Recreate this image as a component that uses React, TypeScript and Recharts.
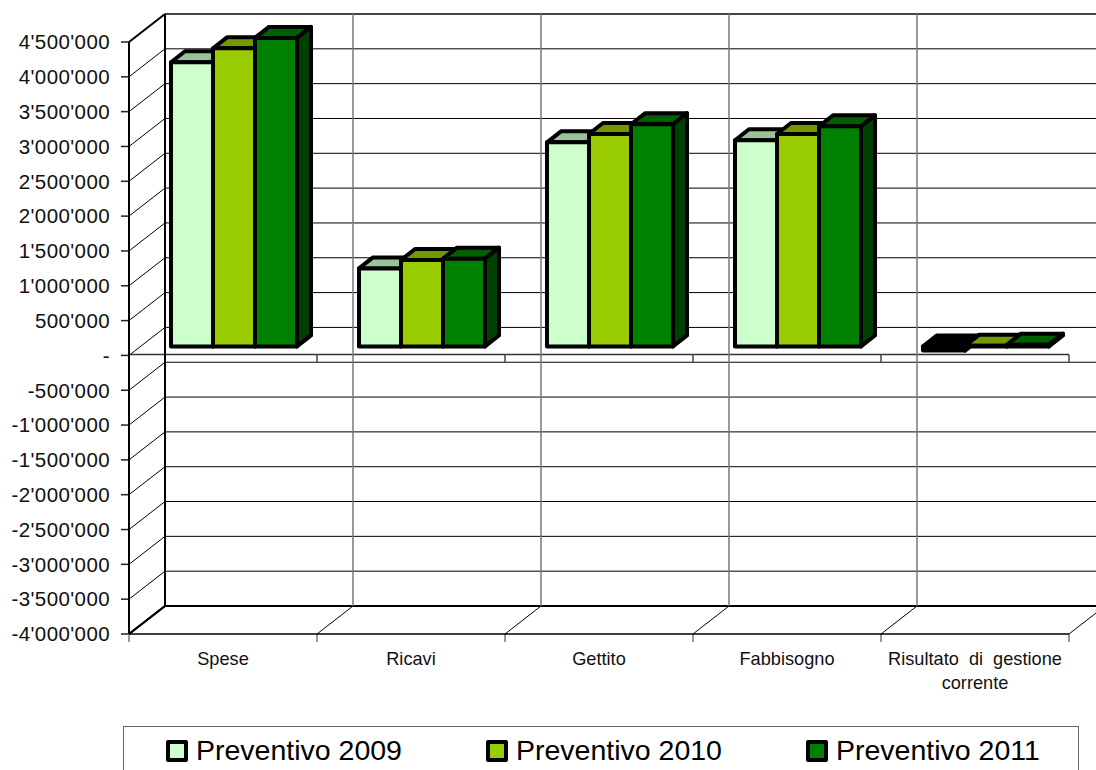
import React from 'react';
import { BarChart, Bar, XAxis, YAxis, CartesianGrid, Legend, Text } from 'recharts';

const categories = ['Spese', 'Ricavi', 'Gettito', 'Fabbisogno', 'Risultato di gestione corrente'];
const preventivo2009 = [4080000, 1120000, 2930000, 2960000, -60000];
const preventivo2010 = [4280000, 1240000, 3050000, 3050000, 8000];
const preventivo2011 = [4430000, 1260000, 3190000, 3160000, 25000];
const yTicks = [
  -4000000, -3500000, -3000000, -2500000, -2000000, -1500000, -1000000, -500000, 0,
  500000, 1000000, 1500000, 2000000, 2500000, 3000000, 3500000, 4000000, 4500000,
];

const seriesNames = ['Preventivo 2009', 'Preventivo 2010', 'Preventivo 2011'];
const seriesColors = ['#CCFFCC', '#99CC00', '#008000'];
const topColors = ['#99C299', '#739900', '#006000'];
const sideColors = ['#668066', '#4D6600', '#004000'];

const data = categories.map((name, i) => ({
  name,
  [seriesNames[0]]: preventivo2009[i],
  [seriesNames[1]]: preventivo2010[i],
  [seriesNames[2]]: preventivo2011[i],
}));

const WIDTH = 1096;
const HEIGHT = 770;
const PLOT_LEFT = 129;
const PLOT_RIGHT = 1069;
const PLOT_TOP = 42;
const PLOT_BOTTOM = 634;
// excel style fake 3d: how far the back wall sits from the front plane
const WALL_DX = 36;
const WALL_DY = -28;
const BAR_DX = 11;
const BAR_DY = -9;
const BAR_DEPTH_X = 14;
const BAR_DEPTH_Y = -11;

const zeroY = PLOT_TOP + (PLOT_BOTTOM - PLOT_TOP) * (4500000 / 8500000);
const step = (PLOT_RIGHT - PLOT_LEFT) / categories.length;
const boundaries = [0, 1, 2, 3, 4, 5].map((i) => PLOT_LEFT + i * step);

const formatTick = (v: number) => {
  if (v === 0) return '-';
  return String(v).replace(/\B(?=(\d{3})+(?!\d))/g, "'");
};

const HorizontalLine = (props: any) => {
  const { x1, x2, y1 } = props;
  const isEdge = Math.abs(y1 - PLOT_TOP) < 1 || Math.abs(y1 - PLOT_BOTTOM) < 1;
  const isTop = Math.abs(y1 - PLOT_TOP) < 1;
  const isZero = Math.abs(y1 - zeroY) < 1;
  return (
    <g>
      <line
        x1={x1 + WALL_DX}
        x2={x2 + WALL_DX}
        y1={y1 + WALL_DY}
        y2={y1 + WALL_DY}
        stroke={isTop ? '#444' : '#000'}
        strokeWidth={isEdge ? 2 : 1}
      />
      <line x1={x1} x2={x1 + WALL_DX} y1={y1} y2={y1 + WALL_DY} stroke="#000" strokeWidth={isEdge ? 2 : 1} />
      <line x1={x1 - 8} x2={x1} y1={y1} y2={y1} stroke="#222" strokeWidth={1.5} />
      {isZero && <line x1={x1} x2={x2} y1={y1 - 1} y2={y1 - 1} stroke="#333" strokeWidth={1.5} />}
    </g>
  );
};

const VerticalLine = (props: any) => {
  const { x1, index } = props;
  const first = index === 0;
  return (
    <g>
      <line
        x1={x1 + WALL_DX}
        x2={x1 + WALL_DX}
        y1={PLOT_TOP + WALL_DY}
        y2={PLOT_BOTTOM + WALL_DY}
        stroke={first ? '#000' : '#777'}
        strokeWidth={first ? 2 : 1.5}
      />
      <line
        x1={x1}
        x2={x1 + WALL_DX}
        y1={PLOT_BOTTOM}
        y2={PLOT_BOTTOM + WALL_DY}
        stroke="#000"
        strokeWidth={first ? 2 : 1}
      />
      <line x1={x1} x2={x1} y1={PLOT_BOTTOM} y2={PLOT_BOTTOM + 8} stroke="#777" strokeWidth={1.5} />
      <line x1={x1} x2={x1} y1={zeroY - 1} y2={zeroY + 7} stroke="#444" strokeWidth={1.5} />
    </g>
  );
};

const makeBox = (seriesIndex: number) => (props: any) => {
  const { x, y, width, height, value } = props;
  const raw = Array.isArray(value) ? value[1] - value[0] : value;
  const negative = raw < 0;
  const left = x + BAR_DX;
  const right = left + width;
  const top = Math.min(y, y + height) + BAR_DY;
  const bottom = Math.max(y, y + height) + BAR_DY;
  const dx = BAR_DEPTH_X;
  const dy = BAR_DEPTH_Y;
  const common = { stroke: '#000', strokeWidth: 4, strokeLinejoin: 'round' as const };
  return (
    <g>
      <polygon
        points={`${left},${top} ${left + dx},${top + dy} ${right + dx},${top + dy} ${right},${top}`}
        fill={negative ? '#000' : topColors[seriesIndex]}
        {...common}
      />
      <polygon
        points={`${right},${top} ${right + dx},${top + dy} ${right + dx},${bottom + dy} ${right},${bottom}`}
        fill={sideColors[seriesIndex]}
        {...common}
      />
      <rect x={left} y={top} width={width} height={bottom - top} fill={seriesColors[seriesIndex]} {...common} />
    </g>
  );
};

const CategoryTick = (props: any) => {
  const { x, y, payload } = props;
  return (
    <Text
      x={x}
      y={y + 12}
      width={170}
      textAnchor="middle"
      verticalAnchor="start"
      lineHeight={24}
      fontSize={18.2}
      fontFamily="Liberation Sans"
      fill="#111"
      style={{ wordSpacing: 5 }}
    >
      {payload.value}
    </Text>
  );
};

const legendStarts = [42, 362, 682];

const LegendBox = () => (
  <div
    style={{
      position: 'relative',
      width: 956,
      height: 60,
      boxSizing: 'border-box',
      border: '1.5px solid #666',
      background: '#fff',
      fontFamily: 'Liberation Sans',
      fontSize: 28.5,
      color: '#000',
    }}
  >
    {seriesNames.map((name, i) => (
      <div key={name} style={{ position: 'absolute', left: legendStarts[i], top: 7, whiteSpace: 'nowrap' }}>
        <span
          style={{
            display: 'inline-block',
            boxSizing: 'border-box',
            width: 22,
            height: 22,
            marginRight: 8,
            border: '4px solid #000',
            borderRadius: 2,
            background: seriesColors[i],
            verticalAlign: -2,
          }}
        />
        {name}
      </div>
    ))}
  </div>
);

export default function App() {
  return (
    <div style={{ position: 'absolute', left: 0, top: 0, width: WIDTH, height: HEIGHT, overflow: 'hidden', background: '#fff' }}>
      <BarChart
        width={WIDTH}
        height={HEIGHT}
        data={data}
        barSize={42}
        barGap={0}
        margin={{ top: PLOT_TOP, right: WIDTH - PLOT_RIGHT, left: 0, bottom: 0 }}
      >
        <CartesianGrid
          syncWithTicks
          horizontal={HorizontalLine}
          vertical={VerticalLine}
          verticalPoints={boundaries}
        />
        <XAxis
          dataKey="name"
          height={HEIGHT - PLOT_BOTTOM}
          axisLine={{ stroke: '#000', strokeWidth: 1.5 }}
          tickLine={false}
          tick={CategoryTick}
          tickMargin={0}
          interval={0}
        />
        <YAxis
          width={PLOT_LEFT}
          type="number"
          domain={[-4000000, 4500000]}
          ticks={yTicks}
          interval={0}
          tickFormatter={formatTick}
          tickLine={false}
          tickSize={8}
          tickMargin={11}
          axisLine={{ stroke: '#000', strokeWidth: 2 }}
          tick={{ fill: '#111', fontSize: 20.5, letterSpacing: 0.4, fontFamily: 'Liberation Sans' }}
        />
        <Legend
          layout="horizontal"
          verticalAlign="middle"
          content={LegendBox}
          wrapperStyle={{ left: 123, top: 726, width: 956 }}
        />
        {seriesNames.map((name, i) => (
          <Bar key={name} dataKey={name} fill={seriesColors[i]} shape={makeBox(i)} isAnimationActive={false} />
        ))}
      </BarChart>
    </div>
  );
}
